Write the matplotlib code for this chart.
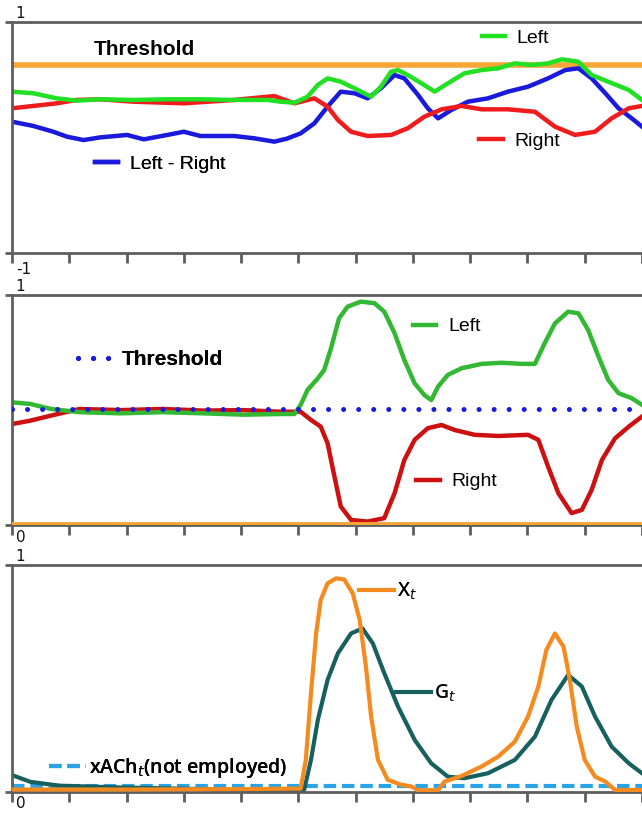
import numpy as np
import matplotlib
matplotlib.use("Agg")
import matplotlib.pyplot as plt

# ---------------- data ----------------
# Panel 1 (range -1..1)
p1_thresh = 0.63
p1_left_x = [0, 0.37, 0.78, 1.13, 1.54, 2.12, 2.71, 3.29, 3.88, 4.46, 4.69, 4.93, 5.16, 5.34, 5.51, 5.74, 5.98,
             6.27, 6.44, 6.62, 6.74, 6.91, 7.15, 7.38, 7.61, 7.9, 8.2, 8.49, 8.78, 9.07, 9.36, 9.6, 9.89, 10.12,
             10.41, 10.77, 11]
p1_left_y = [0.397, 0.383, 0.339, 0.319, 0.331, 0.325, 0.331, 0.331, 0.325, 0.325, 0.31, 0.301, 0.353, 0.455,
             0.512, 0.483, 0.426, 0.353, 0.44, 0.57, 0.584, 0.541, 0.469, 0.397, 0.469, 0.556, 0.584, 0.599, 0.642,
             0.628, 0.642, 0.677, 0.656, 0.541, 0.483, 0.411, 0.325]
p1_right_x = [0, 0.37, 0.78, 1.13, 1.54, 2.12, 3.0, 3.88, 4.58, 4.69, 4.93, 5.28, 5.51, 5.69, 5.92, 6.21, 6.62,
              6.91, 7.2, 7.5, 7.85, 8.2, 8.66, 9.13, 9.48, 9.83, 10.18, 10.47, 10.77, 11]
p1_right_y = [0.253, 0.273, 0.296, 0.325, 0.331, 0.31, 0.296, 0.325, 0.359, 0.339, 0.296, 0.339, 0.267, 0.152,
              0.05, 0.013, 0.022, 0.08, 0.18, 0.244, 0.273, 0.244, 0.244, 0.223, 0.094, 0.022, 0.05, 0.166, 0.253,
              0.273]
p1_diff_x = [0, 0.37, 0.72, 0.96, 1.25, 1.54, 2.01, 2.3, 2.71, 3.0, 3.29, 3.88, 4.23, 4.58, 4.8, 5.04, 5.28, 5.51,
             5.74, 5.98, 6.21, 6.44, 6.68, 6.85, 7.09, 7.26, 7.44, 7.67, 7.96, 8.31, 8.66, 9.01, 9.36, 9.66, 9.89,
             10.12, 10.36, 10.59, 10.82, 11]
p1_diff_y = [0.137, 0.1, 0.05, 0.007, -0.022, 0.001, 0.022, -0.016, 0.022, 0.05, 0.013, 0.013, -0.007, -0.036,
             -0.01, 0.036, 0.123, 0.267, 0.397, 0.383, 0.339, 0.426, 0.541, 0.512, 0.368, 0.253, 0.166, 0.238,
             0.31, 0.339, 0.397, 0.44, 0.512, 0.584, 0.599, 0.512, 0.383, 0.253, 0.166, 0.094]

# Panel 2 (range 0..1)
p2_thresh = 0.5
p2_base = 0.0
p2_left_x = [0, 0.32, 0.68, 1.18, 1.9, 2.62, 3.34, 4.05, 4.69, 4.93, 5.04, 5.16, 5.34, 5.45, 5.57, 5.71, 5.86,
             6.09, 6.33, 6.5, 6.68, 6.85, 7.03, 7.2, 7.32, 7.44, 7.61, 7.85, 8.2, 8.55, 8.9, 9.13, 9.3, 9.48, 9.71,
             9.89, 10.06, 10.24, 10.41, 10.59, 10.82, 11]
p2_left_y = [0.531, 0.524, 0.502, 0.488, 0.483, 0.488, 0.483, 0.477, 0.48, 0.48, 0.52, 0.585, 0.636, 0.672,
             0.767, 0.898, 0.949, 0.971, 0.964, 0.927, 0.833, 0.716, 0.614, 0.563, 0.541, 0.6, 0.651, 0.68, 0.699,
             0.704, 0.699, 0.699, 0.789, 0.876, 0.927, 0.92, 0.847, 0.731, 0.629, 0.571, 0.549, 0.52]
p2_right_x = [0, 0.32, 0.68, 1.18, 1.9, 2.62, 3.34, 4.05, 4.69, 5.04, 5.22, 5.39, 5.51, 5.63, 5.74, 5.92, 6.21,
              6.5, 6.68, 6.85, 7.03, 7.26, 7.5, 7.73, 8.08, 8.49, 9.01, 9.19, 9.36, 9.54, 9.77, 9.95, 10.12, 10.3,
              10.53, 10.77, 11]
p2_right_y = [0.436, 0.451, 0.473, 0.502, 0.497, 0.502, 0.495, 0.497, 0.49, 0.49, 0.454, 0.425, 0.352, 0.207,
              0.076, 0.017, 0.01, 0.025, 0.134, 0.279, 0.367, 0.418, 0.432, 0.41, 0.389, 0.384, 0.389, 0.367, 0.25,
              0.134, 0.047, 0.061, 0.148, 0.279, 0.374, 0.425, 0.469]

# Panel 3 (range 0..1)
p3_ach = 0.02
p3_x_x = [0, 1.9, 4.05, 5.04, 5.13, 5.22, 5.31, 5.39, 5.51, 5.66, 5.8, 5.95, 6.07, 6.18, 6.27, 6.39, 6.56, 6.8,
          6.97, 7.09, 7.44, 7.55, 7.85, 8.2, 8.49, 8.78, 9.01, 9.19, 9.33, 9.48, 9.63, 9.74, 9.86, 10.0, 10.18,
          10.36, 10.53, 11]
p3_x_y = [0.006, 0.006, 0.008, 0.01, 0.137, 0.432, 0.697, 0.845, 0.919, 0.941, 0.936, 0.874, 0.757, 0.55, 0.329,
          0.137, 0.049, 0.027, 0.02, 0.003, 0.003, 0.041, 0.066, 0.108, 0.152, 0.218, 0.329, 0.462, 0.624, 0.697,
          0.638, 0.491, 0.285, 0.137, 0.063, 0.041, 0.004, 0.004]
p3_g_x = [0, 0.32, 0.83, 1.9, 4.05, 5.1, 5.22, 5.34, 5.51, 5.69, 5.92, 6.12, 6.3, 6.5, 6.74, 7.03, 7.32, 7.61,
          7.9, 8.31, 8.78, 9.13, 9.42, 9.71, 9.95, 10.18, 10.47, 10.77, 11]
p3_g_y = [0.07, 0.04, 0.023, 0.015, 0.004, 0.004, 0.137, 0.314, 0.491, 0.609, 0.697, 0.719, 0.653, 0.521, 0.373,
          0.226, 0.122, 0.063, 0.056, 0.078, 0.137, 0.24, 0.403, 0.513, 0.462, 0.329, 0.196, 0.122, 0.078]

x_ticks = list(range(0, 12))

# ---------------- styling ----------------
W, H = 642, 814
fig = plt.figure(figsize=(W / 100, H / 100), dpi=100)
fig.patch.set_facecolor("white")

spine_c = "#5e5e5e"
LAB = ["Liberation Sans", "DejaVu Sans"]
OS = ["Open Sans", "DejaVu Sans"]


def make_axes(top_px, bot_px):
    ax = fig.add_axes([12 / W, 1 - bot_px / H, 1 - 12 / W, (bot_px - top_px) / H])
    for s in ["top", "left", "bottom"]:
        ax.spines[s].set_color(spine_c)
        ax.spines[s].set_linewidth(2.0)
    ax.spines["right"].set_visible(False)
    ax.set_xlim(0, 11)
    ax.set_xticks(x_ticks)
    ax.set_xticklabels([])
    ax.set_yticks([])
    ax.tick_params(axis="x", direction="out", length=7, width=2, color=spine_c)
    # small overhangs of the frame to the left
    ax.plot([-0.011, 0], [1, 1], transform=ax.transAxes, color=spine_c, lw=2, clip_on=False,
            solid_capstyle="butt")
    ax.plot([-0.011, 0], [0, 0], transform=ax.transAxes, color=spine_c, lw=2, clip_on=False,
            solid_capstyle="butt")
    return ax


def tag(ax, h, x, y, text, fs=14, weight="normal", family=LAB, hl=1.2, pad=0.6):
    leg = ax.legend(handles=[h], labels=[text], loc="center left", bbox_to_anchor=(x, y),
                    bbox_transform=ax.transData, frameon=False, borderpad=0, borderaxespad=0,
                    handlelength=hl, handletextpad=pad,
                    prop={"family": family, "size": fs, "weight": weight})
    ax.add_artist(leg)


def corner_labels(ax, top, bottom, h_px, below_px):
    ax.text(0.006, 1 + 4 / h_px, top, transform=ax.transAxes, ha="left", va="baseline", fontsize=11,
            family="DejaVu Sans", color="#111")
    ax.text(0.006, -below_px / h_px, bottom, transform=ax.transAxes, ha="left", va="baseline", fontsize=11,
            family="DejaVu Sans", color="#111")


LW = 3.2
# ---------------- panel 1 ----------------
ax1 = make_axes(22, 253)
ax1.set_ylim(-1, 1)
ax1.axhline(p1_thresh, color="#f7a535", lw=4)
hb, = ax1.plot(p1_diff_x, p1_diff_y, color="#1a1adc", lw=LW, solid_joinstyle="round")
hr, = ax1.plot(p1_right_x, p1_right_y, color="#ee1c1c", lw=LW, solid_joinstyle="round")
hg, = ax1.plot(p1_left_x, p1_left_y, color="#22e022", lw=LW, solid_joinstyle="round")
ax1.text(1.42, 0.766, "Threshold", fontsize=15, fontweight="bold", family=LAB, va="center", ha="left")
tag(ax1, hg, 8.2, 0.859, "Left")
tag(ax1, hr, 8.16, -0.028, "Right")
tag(ax1, hb, 1.45, -0.229, "Left - Right")
corner_labels(ax1, "1", "-1", 231, 21)

# ---------------- panel 2 ----------------
ax2 = make_axes(295, 525)
ax2.set_ylim(-0.005, 1.0)
ax2.axhline(p2_base, color="#f7a535", lw=3.5, zorder=3)
ht, = ax2.plot([0, 11], [p2_thresh, p2_thresh], color="#1a1adc", lw=3.6,
               dashes=(0.01, 3.0), dash_capstyle="round", zorder=4)
hr2, = ax2.plot(p2_right_x, p2_right_y, color="#cc1111", lw=LW, solid_joinstyle="round", zorder=2)
hg2, = ax2.plot(p2_left_x, p2_left_y, color="#33b833", lw=LW, solid_joinstyle="round", zorder=2.5)
tag(ax2, hg2, 7.0, 0.862, "Left")
tag(ax2, hr2, 7.06, 0.185, "Right")
tag(ax2, ht, 1.15, 0.716, "Threshold", fs=15, weight="bold", hl=1.6, pad=0.5)
corner_labels(ax2, "1", "0", 230, 17)

# ---------------- panel 3 ----------------
ax3 = make_axes(565, 792)
ax3.set_ylim(-0.005, 1.0)
ha_, = ax3.plot([0, 11], [p3_ach, p3_ach], color="#2aa4e4", lw=3, dashes=(3.0, 1.4), zorder=2)
hx, = ax3.plot(p3_x_x, p3_x_y, color="#f58a1f", lw=3, solid_joinstyle="round", zorder=3)
hgt, = ax3.plot(p3_g_x, p3_g_y, color="#17605e", lw=3, solid_joinstyle="round", zorder=2.5)
tag(ax3, hx, 6.06, 0.882, r"X$_t$", fs=14, weight="semibold", family=OS, hl=1.8, pad=0.15)
tag(ax3, hgt, 6.71, 0.432, r"G$_t$", fs=14, weight="semibold", family=OS, hl=1.8, pad=0.15)
tag(ax3, ha_, 0.64, 0.102, r"xACh$_t$(not employed)", fs=14, weight="semibold", family=OS, hl=1.9, pad=0.2)
corner_labels(ax3, "1", "0", 227, 16)

fig.savefig("out.png", dpi=100, facecolor="white")
